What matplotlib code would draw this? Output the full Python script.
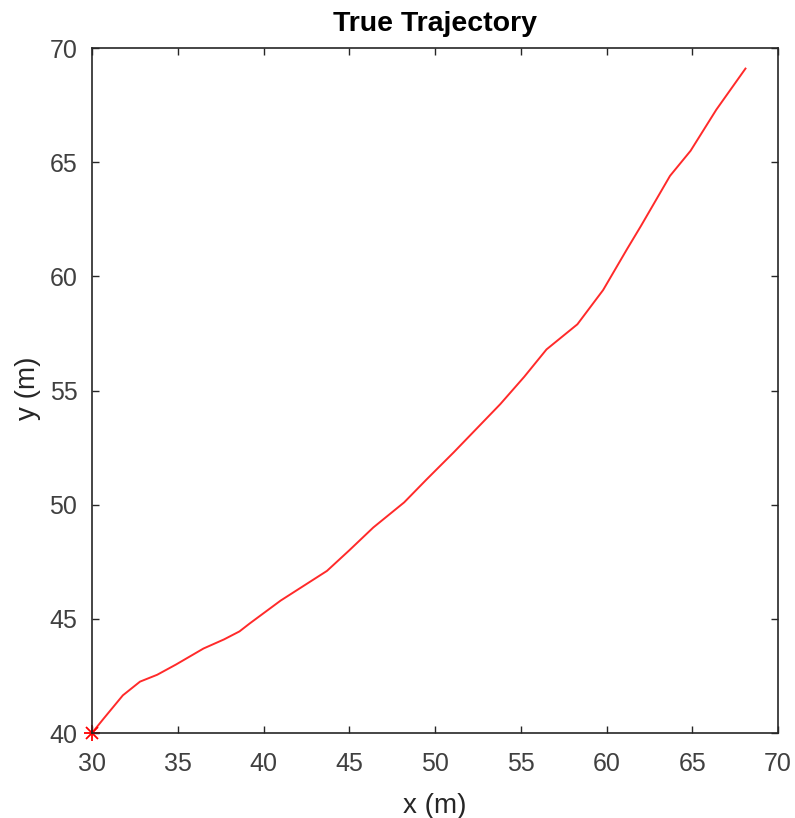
import matplotlib.pyplot as plt

# trajectory
x_traj = [30.0, 30.7, 31.8, 32.8, 33.8, 34.9, 36.5, 37.7, 38.6, 39.2, 41.0, 43.7,
          45.0, 46.4, 48.2, 49.5, 50.3, 51.1, 52.0, 53.8, 55.2, 56.5, 58.3, 58.8,
          59.3, 59.8, 61.2, 62.0, 63.7, 64.9, 66.4, 68.1]
y_traj = [40.0, 40.65, 41.65, 42.25, 42.55, 43.0, 43.7, 44.1, 44.45, 44.8, 45.8, 47.1,
          48.0, 49.0, 50.1, 51.1, 51.7, 52.3, 53.0, 54.4, 55.6, 56.8, 57.9, 58.4,
          58.9, 59.4, 61.2, 62.2, 64.4, 65.5, 67.3, 69.1]
x_ticks = [30, 35, 40, 45, 50, 55, 60, 65, 70]
y_ticks = [40, 45, 50, 55, 60, 65, 70]

plt.rcParams['font.family'] = ['Liberation Sans', 'DejaVu Sans']

fig = plt.figure(figsize=(7.95, 8.18), dpi=100)
ax = fig.add_axes([0.1157, 0.1039, 0.863, 0.8374])

ax.plot(x_traj, y_traj, color='#ff2a2a', lw=1.4)
ax.plot(x_traj[0], y_traj[0], marker='+', color='red', ms=11, mew=1.3, clip_on=False)
ax.plot(x_traj[0], y_traj[0], marker='x', color='red', ms=8, mew=1.3, clip_on=False)

ax.set_xlim(30, 70)
ax.set_ylim(40, 70)
ax.set_xticks(x_ticks)
ax.set_yticks(y_ticks)
ax.tick_params(direction='in', length=5, width=1, colors='#262626',
               labelsize=18, labelcolor='#404040', top=True, right=True)
ax.tick_params(axis='x', pad=14)
ax.tick_params(axis='y', pad=10.5)
for s in ax.spines.values():
    s.set_color('#262626')
    s.set_linewidth(1.2)

ax.set_xlabel('x (m)', fontsize=20, color='#262626', va='center')
ax.xaxis.set_label_coords(0.5, -0.1066)
ax.set_ylabel('y (m)', fontsize=20, color='#262626', va='center')
ax.yaxis.set_label_coords(-0.093, 0.503)
ax.set_title('True Trajectory', fontsize=20.5, fontweight='bold', color='black', pad=12)

fig.savefig('out.png', dpi=100)
